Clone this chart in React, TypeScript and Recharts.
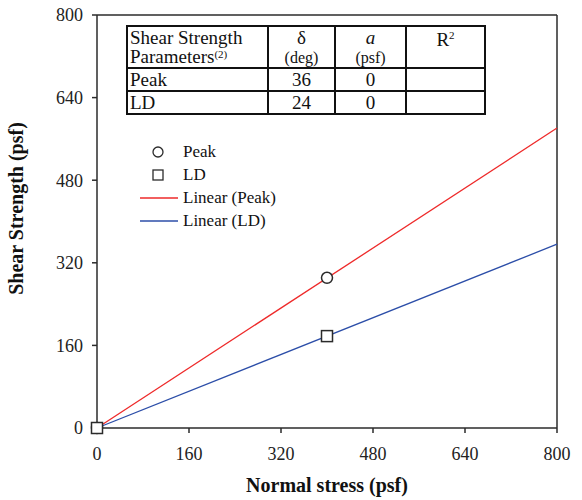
import React from "react";
import { ScatterChart, Scatter, XAxis, YAxis, ReferenceLine } from "recharts";

// measured points (psf)
const normalStress = [0, 400];
const peakStrength = [0, 291];
const ldStrength = [0, 178];

// linear fit end points
const fitStress = [0, 800];
const peakFit = [0, 581];
const ldFit = [0, 356];

const axisTicks = [0, 160, 320, 480, 640, 800];

const paramNames = ["Peak", "LD"];
const paramDelta = [36, 24];
const paramA = [0, 0];

const legendItems = [
  { name: "Peak", kind: "circle" },
  { name: "LD", kind: "square" },
  { name: "Linear (Peak)", kind: "line", color: "#ee2a2a" },
  { name: "Linear (LD)", kind: "line", color: "#2c4ea8" },
];

const font = "'Liberation Serif', 'Times New Roman', serif";
const ink = "#2b2b2b";

const toPoints = (xs: number[], ys: number[]) => xs.map((x, i) => ({ x, y: ys[i] }));

const peakData = toPoints(normalStress, peakStrength);
const ldData = toPoints(normalStress, ldStrength);
const peakLine = toPoints(fitStress, peakFit);
const ldLine = toPoints(fitStress, ldFit);

const CircleMark = (p: any) => (
  <circle cx={p.cx} cy={p.cy} r={5.5} fill="#fff" stroke={ink} strokeWidth={1.5} />
);
const SquareMark = (p: any) => (
  <rect x={p.cx - 5.5} y={p.cy - 5.5} width={11} height={11} fill="#fff" stroke={ink} strokeWidth={1.5} />
);
const NoMark = () => null;

function LegendBox() {
  return (
    <div style={{ position: "absolute", left: 136, top: 140, fontFamily: font, fontSize: 17, color: "#111" }}>
      {legendItems.map((it) => (
        <div key={it.name} style={{ display: "flex", alignItems: "center", height: 23 }}>
          <svg width={47} height={14}>
            {it.kind === "circle" && <circle cx={22} cy={7} r={5} fill="#fff" stroke={ink} strokeWidth={1.3} />}
            {it.kind === "square" && <rect x={17} y={2} width={10} height={10} fill="#fff" stroke={ink} strokeWidth={1.3} />}
            {it.kind === "line" && <line x1={4} y1={7} x2={42} y2={7} stroke={it.color} strokeWidth={1.3} />}
          </svg>
          <span>{it.name}</span>
        </div>
      ))}
    </div>
  );
}

const cell: React.CSSProperties = {
  border: "2px solid #111",
  padding: 0,
  lineHeight: "19px",
  verticalAlign: "top",
};

const supStyle: React.CSSProperties = { fontSize: 11, lineHeight: "11px", verticalAlign: "5px" };

function ParamTable() {
  return (
    <table
      style={{
        position: "absolute",
        left: 126,
        top: 25,
        borderCollapse: "collapse",
        fontFamily: font,
        fontSize: 19,
        color: "#111",
        background: "#fff",
        tableLayout: "fixed",
        width: 358,
      }}
    >
      <colgroup>
        <col style={{ width: 141 }} />
        <col style={{ width: 67 }} />
        <col style={{ width: 71 }} />
        <col style={{ width: 79 }} />
      </colgroup>
      <tbody>
        <tr style={{ height: 42 }}>
          <td style={{ ...cell, paddingLeft: 2, paddingTop: 1 }}>
            Shear Strength
            <br />
            Parameters<span style={supStyle}>(2)</span>
          </td>
          <td style={{ ...cell, textAlign: "center", paddingTop: 1 }}>
            δ<br />
            <span style={{ fontSize: 16 }}>(deg)</span>
          </td>
          <td style={{ ...cell, textAlign: "center", paddingTop: 1 }}>
            <i>a</i>
            <br />
            <span style={{ fontSize: 16 }}>(psf)</span>
          </td>
          <td style={{ ...cell, textAlign: "center", paddingTop: 3 }}>
            R<span style={{ ...supStyle, verticalAlign: "7px" }}>2</span>
          </td>
        </tr>
        {paramNames.map((n, i) => (
          <tr key={n} style={{ height: 23 }}>
            <td style={{ ...cell, paddingLeft: 2, verticalAlign: "middle" }}>{n}</td>
            <td style={{ ...cell, textAlign: "center", verticalAlign: "middle" }}>{paramDelta[i]}</td>
            <td style={{ ...cell, textAlign: "center", verticalAlign: "middle" }}>{paramA[i]}</td>
            <td style={cell}></td>
          </tr>
        ))}
      </tbody>
    </table>
  );
}

export default function App() {
  const tickStyle = { fontFamily: font, fontSize: 18, fill: "#222" };
  return (
    <div style={{ position: "absolute", left: 0, top: 0, width: 582, height: 500, background: "#fff" }}>
      <ScatterChart width={582} height={500} margin={{ top: 15, right: 25, bottom: 0, left: 0 }}>
        <XAxis
          type="number"
          dataKey="x"
          domain={[0, 800]}
          ticks={axisTicks}
          height={72}
          tick={tickStyle}
          tickSize={5}
          tickMargin={14}
          stroke={ink}
          strokeWidth={1.5}
          label={{
            value: "Normal stress (psf)",
            position: "insideBottom",
            offset: 8,
            style: { fontFamily: font, fontSize: 20, fontWeight: "bold", fill: "#111" },
          }}
        />
        <YAxis
          type="number"
          dataKey="y"
          domain={[0, 800]}
          ticks={axisTicks}
          width={97}
          tick={tickStyle}
          tickSize={5}
          tickMargin={9}
          stroke={ink}
          strokeWidth={1.5}
          label={{
            value: "Shear Strength (psf)",
            angle: -90,
            position: "insideLeft",
            offset: 16,
            dy: -13,
            style: { fontFamily: font, fontSize: 20, fontWeight: "bold", fill: "#111", textAnchor: "middle" },
          }}
        />
        <ReferenceLine y={800} stroke={ink} strokeWidth={1.5} />
        <ReferenceLine x={800} stroke={ink} strokeWidth={1.5} />
        <Scatter name="Linear (Peak)" data={peakLine} line={{ stroke: "#ee2a2a", strokeWidth: 1.3 }} shape={NoMark} isAnimationActive={false} />
        <Scatter name="Linear (LD)" data={ldLine} line={{ stroke: "#2c4ea8", strokeWidth: 1.3 }} shape={NoMark} isAnimationActive={false} />
        <Scatter name="Peak" data={peakData} shape={CircleMark} isAnimationActive={false} />
        <Scatter name="LD" data={ldData} shape={SquareMark} isAnimationActive={false} />
      </ScatterChart>
      <LegendBox />
      <ParamTable />
    </div>
  );
}
